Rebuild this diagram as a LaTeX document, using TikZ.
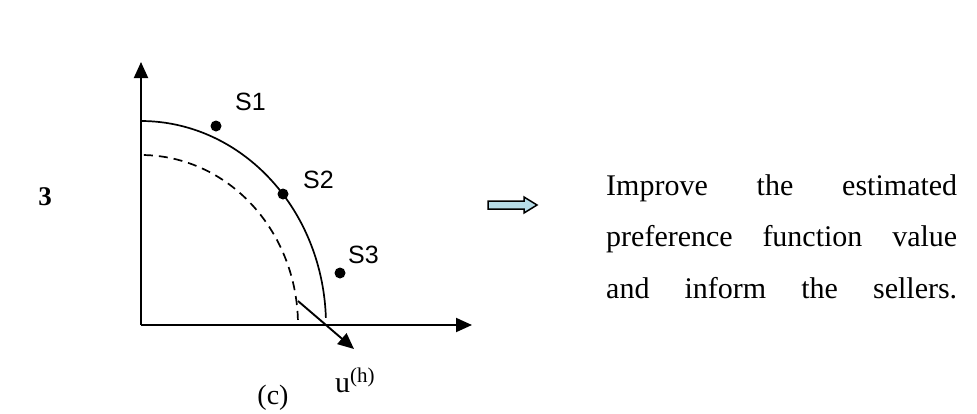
\documentclass[tikz,border=0pt]{standalone}
\usepackage{fontspec}
\setmainfont{Liberation Serif}
\newfontfamily\sansf{Liberation Sans}
\usetikzlibrary{arrows.meta}
\begin{document}
\begin{tikzpicture}[x=1pt,y=-1pt,
  axis/.style={line width=1.9pt,-{Triangle[length=16pt,width=14pt]}},
  curve/.style={line width=1.7pt},
  dot/.style={circle,fill=black,inner sep=0pt,minimum size=11pt},
  slabel/.style={font=\sansf\fontsize{25}{29}\selectfont,inner sep=0pt,anchor=base west},
  rtext/.style={font=\fontsize{30}{36}\selectfont,inner sep=0pt,anchor=base west}]
\useasboundingbox (0,0) rectangle (977,413);
% axes
\coordinate (O) at (141,325);
\coordinate (Ytip) at (141,62);
\coordinate (Xtip) at (472,325);
\draw[axis] (O) -- (Ytip);
\draw[axis] (O) -- (Xtip);
% curves
\draw[curve] plot[domain=2:90,samples=80] ({141+185*cos(\x)},{325-204*sin(\x)});
\draw[curve,dash pattern=on 9pt off 6pt] plot[domain=1.7:90,samples=80] ({141+157*cos(\x)},{325-170*sin(\x)});
% points
\node[dot] (s1) at (216,126) {};
\node[dot] (s2) at (283,194) {};
\node[dot] (s3) at (340,273) {};
\node[slabel] (l1) at (235,110) {S1};
\node[slabel] (l2) at (303,188) {S2};
\node[slabel] (l3) at (348,263) {S3};
% normal vector
\coordinate (n0) at (298,301);
\coordinate (n1) at (354,349);
\draw[line width=1.9pt,-{Triangle[length=16pt,width=14pt]}] (n0) -- (n1);
\node[font=\fontsize{30}{36}\selectfont,inner sep=0pt,anchor=base west] (u) at (335,392) {u\textsuperscript{(h)}};
\node[font=\fontsize{28}{34}\selectfont,inner sep=0pt,anchor=base] (c) at (273,404) {(c)};
\node[font=\bfseries\fontsize{27}{31}\selectfont,inner sep=0pt,anchor=base] (three) at (45,205) {3};
% block arrow
\draw[line width=1.5pt,fill={rgb,255:red,183;green,221;blue,232}]
  (488,201) -- (524,201) -- (524,197) -- (537,205) -- (524,213) -- (524,209) -- (488,209) -- cycle;
% text
\node[rtext] (t1) at (606,195) {\makebox[351pt][s]{Improve the estimated}};
\node[rtext] (t2) at (606,246) {\makebox[351pt][s]{preference function value}};
\node[rtext] (t3) at (606,298) {\makebox[351pt][s]{and inform the sellers.}};
\end{tikzpicture}
\end{document}
